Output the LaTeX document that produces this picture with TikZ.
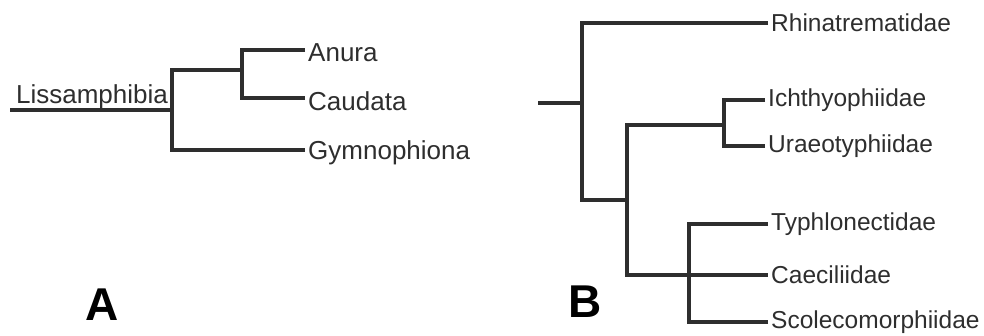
\documentclass[tikz,border=0pt]{standalone}
\usepackage{fontspec}
\setmainfont{Liberation Sans}
\usetikzlibrary{positioning}
\colorlet{treegray}{black!82}
\tikzset{branch/.style={line width=3.6pt,treegray,line join=miter}}

\begin{document}
\begin{tikzpicture}[x=1pt, y=-1pt,
    taxonA/.style={anchor=west,inner sep=0pt,xshift=3pt,yshift=-3pt,text=treegray,font=\fontsize{26}{30}\selectfont},
    taxonB/.style={anchor=west,inner sep=0pt,xshift=3pt,text=treegray,font=\fontsize{24.5}{28}\selectfont},
    panel/.style={inner sep=0pt,font=\fontsize{46}{50}\selectfont\bfseries}]

    \useasboundingbox (0,0) rectangle (984,335);

    % A: Lissamphibia
    \begin{scope}
    \coordinate (stemA) at (10,110);
    \coordinate (rootA) at (172,110);
    \coordinate (nAC) at (242,70);
    \coordinate (tAnura) at (305,50);
    \coordinate (tCaudata) at (305,98);
    \coordinate (tGymno) at (305,150);

    \draw[branch] (stemA) -- (rootA);
    \draw[branch] (tAnura) -| (nAC);
    \draw[branch] (tCaudata) -| (nAC);
    \draw[branch] (nAC) -| (rootA) |- (tGymno);

    \node[taxonA, anchor=base, xshift=0pt, yshift=0pt] (Lissamphibia) at (89,100) {Lissamphibia};
    \node[taxonA] (Anura) at (tAnura) {Anura};
    \node[taxonA] (Caudata) at (tCaudata) {Caudata};
    \node[taxonA] (Gymnophiona) at (tGymno) {Gymnophiona};

    \node[panel] (labA) at (102,305) {A};
    \end{scope}

    % B: Gymnophiona families
    \begin{scope}
    \coordinate (stemB) at (538,103);
    \coordinate (rootB) at (582,103);
    \coordinate (nCore) at (627,200);
    \coordinate (nIU) at (724,125);
    \coordinate (nTCS) at (689,275);
    \coordinate (tRhina) at (768,23);
    \coordinate (tIchthyo) at (765,100);
    \coordinate (tUraeo) at (765,146);
    \coordinate (tTyphlo) at (768,224);
    \coordinate (tCaec) at (768,275);
    \coordinate (tScoleco) at (768,322);

    \draw[branch] (stemB) -- (rootB);
    \draw[branch] (tRhina) -| (rootB) |- (nCore);
    \draw[branch] (nCore) |- (nIU);
    \draw[branch] (tIchthyo) -| (nIU);
    \draw[branch] (tUraeo) -| (nIU);
    \draw[branch] (nCore) |- (nTCS) -- (tCaec);
    \draw[branch] (tTyphlo) -| (nTCS);
    \draw[branch] (tScoleco) -| (nTCS);

    \node[taxonB] (Rhinatrematidae) at (tRhina) {Rhinatrematidae};
    \node[taxonB] (Ichthyophiidae) at (tIchthyo) {Ichthyophiidae};
    \node[taxonB] (Uraeotyphiidae) at (tUraeo) {Uraeotyphiidae};
    \node[taxonB] (Typhlonectidae) at (tTyphlo) {Typhlonectidae};
    \node[taxonB] (Caeciliidae) at (tCaec) {Caeciliidae};
    \node[taxonB] (Scolecomorphiidae) at (tScoleco) {Scolecomorphiidae};

    \node[panel] (labB) at (585,302) {B};
    \end{scope}
\end{tikzpicture}
\end{document}
